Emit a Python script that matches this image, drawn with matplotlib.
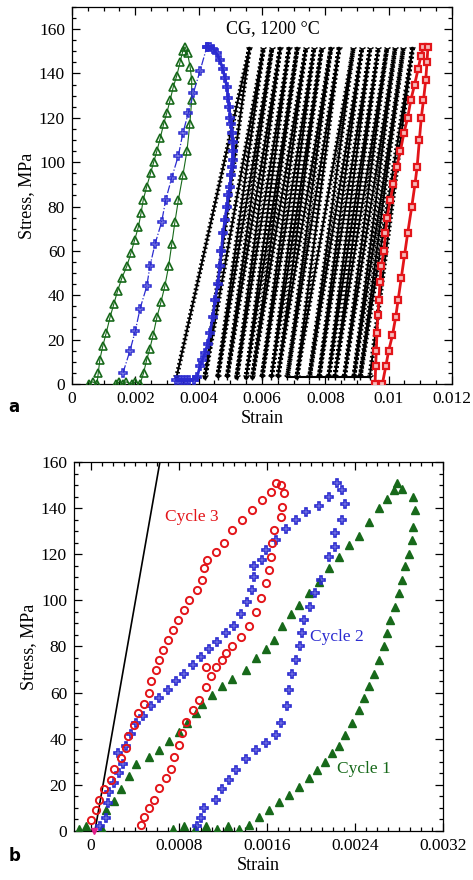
import matplotlib
matplotlib.use('Agg')
import matplotlib.pyplot as plt
from matplotlib.ticker import MultipleLocator, FixedLocator, FixedFormatter

plt.rcParams['font.family'] = ['Liberation Serif', 'DejaVu Serif']

# ---------------- Panel a data ----------------
green_a_strain = [0.00055, 0.00065, 0.00079, 0.00083, 0.00088, 0.00097, 0.00108, 0.0012, 0.00132, 0.00144,
                  0.00158, 0.00173, 0.00186, 0.00198, 0.0021, 0.00218, 0.00225, 0.00236, 0.00248, 0.00258,
                  0.00268, 0.00279, 0.00289, 0.00299, 0.0031, 0.0032, 0.00331, 0.00341, 0.0035, 0.00357,
                  0.00365, 0.00373, 0.00378, 0.00378, 0.00372, 0.00363, 0.0035, 0.00336, 0.00325, 0.00315,
                  0.00305, 0.00293, 0.00281, 0.00268, 0.00256, 0.00246, 0.00236, 0.00226, 0.00215,
                  0.0020, 0.0019, 0.0017, 0.0016, 0.0015, 0.0014]
green_a_stress = [0, 1, 0, 5, 11, 17, 23, 30, 36, 42,
                  48, 53, 59, 65, 71, 77, 83, 89, 95, 100,
                  105, 111, 117, 122, 128, 134, 139, 145, 150, 152,
                  149, 143, 137, 128, 117, 105, 94, 83, 73, 63,
                  53, 44, 37, 30, 22, 16, 11, 5, 0,
                  1, 0, 1, 0, 1, 0]

blue_load_strain = [0.00161, 0.00183, 0.0020, 0.00215, 0.00236, 0.00246, 0.00262, 0.00283, 0.00296, 0.00315,
                    0.00336, 0.0035, 0.00367, 0.00383, 0.00404, 0.00426]
blue_load_stress = [5, 15, 24, 34, 44, 53, 63, 73, 83, 93, 103, 113, 122, 131, 141, 152]
blue_unload_strain = [0.00426, 0.00436, 0.00446, 0.00457, 0.00467, 0.00476, 0.00483, 0.00489, 0.00493, 0.00497,
                      0.00499, 0.00503, 0.00505, 0.00508, 0.00509, 0.00507, 0.00505, 0.00502, 0.00499, 0.00494,
                      0.00489, 0.00483, 0.00477, 0.00472, 0.00467, 0.00460, 0.00452, 0.00444, 0.00436, 0.00428,
                      0.0042, 0.00412, 0.00404, 0.00395, 0.00385, 0.0037, 0.0036, 0.0035, 0.0034, 0.0033]
blue_unload_stress = [152, 152, 151, 149, 146, 142, 138, 134, 129, 125,
                      120, 117, 113, 109, 105, 101, 98, 94, 89, 85,
                      80, 74, 68, 60, 53, 45, 38, 30, 23, 18,
                      14, 11, 8, 3, 2, 2, 2, 2, 2, 2]

black_start_strain = 0.0033
black_peak_strain = [0.0056, 0.00604, 0.00631, 0.00657, 0.00685, 0.00711, 0.00738, 0.00764, 0.00788, 0.00817,
                     0.00843, 0.00888, 0.00915, 0.00941, 0.00967, 0.00994, 0.0102, 0.01046, 0.01075]
black_foot_strain = [0.0042, 0.0046, 0.0049, 0.0052, 0.0055, 0.0057, 0.0060, 0.0063, 0.0065, 0.0068,
                     0.0071, 0.0075, 0.0078, 0.0081, 0.0083, 0.0086, 0.0089, 0.0091, 0.0094]
black_peak_stress = 151
black_foot_stress = 3
black_base_strain = [0.0068, 0.0094]
black_base_stress = [3, 3]

red_a_strain = [0.00957, 0.00959, 0.00961, 0.00963, 0.00966, 0.00969, 0.00973, 0.00976, 0.00985, 0.0099,
                0.00995, 0.01005, 0.01015, 0.01026, 0.01037, 0.01048, 0.0106, 0.0107, 0.01082, 0.01093,
                0.01102, 0.0111,
                0.01124, 0.01121, 0.01117, 0.0111, 0.01103, 0.01097, 0.0109, 0.01083, 0.01073, 0.0106,
                0.0105, 0.0104, 0.0103, 0.01022, 0.01012, 0.0100, 0.00991, 0.0098]
red_a_stress = [0, 8, 15, 23, 31, 38, 46, 53, 60, 68,
                75, 83, 90, 98, 105, 113, 120, 128, 135, 142,
                148, 152,
                152, 145, 137, 128, 120, 110, 98, 90, 80, 68,
                58, 48, 38, 30, 22, 15, 8, 0]

# ---------------- Panel b data ----------------
elastic_strain = [0.00004, 0.00063]
elastic_stress = [0, 160]

c1_strain = [-0.0001, -0.00004, 0.0001, 0.000142, 0.000217, 0.000278, 0.000353, 0.000413, 0.000534, 0.000624,
             0.000715, 0.000805, 0.00088, 0.000956, 0.001016, 0.001107, 0.001197, 0.001288, 0.001409, 0.0015,
             0.00159, 0.001665, 0.00174, 0.001816, 0.001891, 0.001982, 0.002072, 0.002163, 0.002253, 0.002344,
             0.002434, 0.002525, 0.002615, 0.00269, 0.002751, 0.002781,
             0.002826, 0.002932, 0.002947, 0.002932, 0.002917, 0.002887, 0.002857, 0.002826, 0.002796, 0.002766,
             0.002721, 0.00269, 0.00266, 0.002615, 0.00257, 0.002525, 0.00248, 0.002434, 0.002374, 0.002314,
             0.002253, 0.002193, 0.002133, 0.002057, 0.001982, 0.001891, 0.001801, 0.00171, 0.00162, 0.00153,
             0.001439, 0.00135, 0.00125, 0.00115, 0.00105, 0.00095, 0.00085, 0.00075]
c1_stress = [1, 2, 1, 9, 13, 18, 24, 29, 32, 35,
             39, 43, 47, 51, 55, 59, 63, 66, 70, 75,
             79, 83, 89, 94, 98, 103, 108, 114, 119, 124,
             128, 134, 140, 144, 148, 151,
             148.5, 145, 139, 132, 126, 120, 115, 109, 103, 97,
             91.5, 86, 80, 74, 68, 63, 57.5, 52.5, 47, 41.5,
             37, 34, 30, 26.5, 23, 19, 15.6, 12.7, 9, 6,
             2.6, 1, 2, 1, 2, 1, 2, 1]

c2_strain = [0.00009, 0.000142, 0.000157, 0.000172, 0.000217, 0.000262, 0.000293, 0.000247, 0.000323, 0.000368,
             0.000413, 0.000473, 0.00055, 0.000624, 0.0007, 0.000776, 0.000851, 0.000926, 0.001001, 0.001077,
             0.001152, 0.001228, 0.001303, 0.001364, 0.001424, 0.001469, 0.001484, 0.001484, 0.00156, 0.00159,
             0.00168, 0.001771, 0.001862, 0.001952, 0.002072, 0.002163, 0.002238,
             0.002284, 0.002314, 0.002284, 0.002223, 0.002223, 0.002163, 0.002088, 0.002042, 0.001997, 0.001937,
             0.001921, 0.001906, 0.001862, 0.001831, 0.001801, 0.001786, 0.001726, 0.00168, 0.00159, 0.0015,
             0.001409, 0.001318, 0.001258, 0.001197, 0.001137, 0.001032, 0.001001, 0.00097]
c2_stress = [2, 5.6, 12, 17, 21, 25, 29, 34, 37, 42,
             47, 50, 54, 57.5, 61, 65, 68, 72, 75.6, 79,
             82, 86, 89, 94, 99.5, 104.5, 110, 115, 117.5, 122,
             126, 131, 135, 138.5, 141, 145, 150.7,
             148, 142, 135, 129, 123, 119, 109, 103, 97, 91.5,
             86, 80, 74, 68, 61, 54, 47, 41.6, 38, 35,
             31, 26.5, 22, 18, 13.4, 10, 5.6, 2]

c3_strain = [0.000006, 0.000052, 0.000081, 0.000127, 0.000187, 0.000217, 0.000278, 0.000323, 0.000338, 0.000398,
             0.000428, 0.000489, 0.000534, 0.00055, 0.000595, 0.000624, 0.000654, 0.0007, 0.000745, 0.00079,
             0.000851, 0.000896, 0.000971, 0.001016, 0.001032, 0.001062, 0.001137, 0.001213, 0.001288, 0.001378,
             0.001469, 0.00156, 0.001635, 0.00168,
             0.001726, 0.001756, 0.00174, 0.001726, 0.001665, 0.00165, 0.001635, 0.00162, 0.00159, 0.001545,
             0.0015, 0.001439, 0.001364, 0.001288, 0.001228, 0.001197, 0.00114, 0.00105, 0.001092, 0.001047,
             0.000986, 0.000926, 0.000866, 0.000835, 0.000805, 0.00076, 0.00073, 0.000685, 0.000624, 0.000579,
             0.000534, 0.000489, 0.000459]
c3_stress = [4.8, 9, 13.4, 18, 22, 27, 31.5, 36, 41, 46,
             51, 55, 60, 65, 70, 74, 78.5, 83, 87, 91.5,
             96, 100, 104.5, 109, 114, 117.5, 121, 125, 130.5, 135,
             139, 143.5, 147, 151,
             150, 146.4, 140.6, 136, 130.5, 124.7, 119, 113, 107.4, 101,
             95, 89, 84, 80, 77, 74, 71, 71, 67, 62.6,
             57, 52.5, 47.4, 42.4, 37.3, 32, 27, 23, 18.5, 13.4,
             10, 6, 2.6]

origin_strain = [0.00003]
origin_stress = [0]

a_xticks = [0, 0.002, 0.004, 0.006, 0.008, 0.010, 0.012]
a_xticklabels = ['0', '0.002', '0.004', '0.006', '0.008', '0.01', '0.012']
a_yticks = [0, 20, 40, 60, 80, 100, 120, 140, 160]
b_xticks = [0, 0.0008, 0.0016, 0.0024, 0.0032]
b_xticklabels = ['0', '0.0008', '0.0016', '0.0024', '0.0032']
b_yticks = [0, 20, 40, 60, 80, 100, 120, 140, 160]

GREEN = '#17691a'
BLUE = '#2b2bd0'
RED = '#e3151a'

fig = plt.figure(figsize=(4.73, 8.8), dpi=100)
axa = fig.add_axes([0.1522, 0.5636, 0.8034, 0.4286])
axb = fig.add_axes([0.1564, 0.0557, 0.7802, 0.4193])


def style(ax, xt, xtl, yt, xminor, yminor):
    ax.xaxis.set_major_locator(FixedLocator(xt))
    ax.xaxis.set_major_formatter(FixedFormatter(xtl))
    ax.yaxis.set_major_locator(FixedLocator(yt))
    ax.xaxis.set_minor_locator(MultipleLocator(xminor))
    ax.yaxis.set_minor_locator(MultipleLocator(yminor))
    ax.tick_params(which='both', direction='in', top=True, right=True, labelsize=12.5, width=0.9)
    ax.tick_params(which='major', length=6, pad=5)
    ax.tick_params(which='minor', length=3)
    for s in ax.spines.values():
        s.set_linewidth(0.9)
    ax.set_xlabel('Strain', fontsize=13, labelpad=2)
    ax.set_ylabel('Stress, MPa', fontsize=13, labelpad=3)


# ---- panel a ----
bx = [black_start_strain]
by = [black_foot_stress]
for p, f in zip(black_peak_strain, black_foot_strain):
    bx += [p, f]
    by += [black_peak_stress, black_foot_stress]
axa.plot(bx, by, color='black', lw=1.4, zorder=2)
axa.plot(bx, by, color='black', lw=3.4, ls=(0, (0.35, 0.55)), zorder=2)
axa.plot(bx, by, color='black', ls='none', marker='1', ms=5, zorder=2)
axa.plot(black_base_strain, black_base_stress, color='black', lw=1.5, zorder=2)

axa.plot(green_a_strain, green_a_stress, color=GREEN, lw=0.8, marker='^', ms=5.5,
         mfc='none', mec=GREEN, mew=1.2, zorder=3)
axa.plot(blue_load_strain, blue_load_stress, color=BLUE, lw=0.9, ls='-.', marker='P', ms=6,
         mfc='none', mec=BLUE, mew=1.1, zorder=3)
axa.plot(blue_unload_strain, blue_unload_stress, color=BLUE, lw=2.0, marker='P', ms=5.5,
         mfc='none', mec=BLUE, mew=1.2, zorder=3)
axa.plot(red_a_strain, red_a_stress, color=RED, lw=2.0, marker='s', ms=4.8,
         mfc='#f6b8b8', mec=RED, mew=1.6, zorder=4)

axa.set_xlim(0, 0.012)
axa.set_ylim(0, 170)
style(axa, a_xticks, a_xticklabels, a_yticks, 0.0005, 5)
axa.text(0.00635, 160, 'CG, 1200 °C', ha='center', va='center', fontsize=13)

# ---- panel b ----
axb.plot(elastic_strain, elastic_stress, color='black', lw=1.2, zorder=2)
axb.plot(c1_strain, c1_stress, ls='none', marker='^', ms=5.8, color=GREEN, zorder=3)
axb.plot(c2_strain, c2_stress, ls='none', marker='P', ms=6, mfc='none', mec=BLUE, mew=1.2, zorder=4)
axb.plot(c3_strain, c3_stress, ls='none', marker='o', ms=5.2, mfc='none', mec=RED, mew=1.4, zorder=5)
axb.plot(origin_strain, origin_stress, ls='none', marker='v', ms=4.5, color='#e0208a', zorder=6, clip_on=False)

axb.set_xlim(-0.00015, 0.0032)
axb.set_ylim(0, 160)
style(axb, b_xticks, b_xticklabels, b_yticks, 0.0001, 5)
axb.text(0.00092, 136, 'Cycle 3', color=RED, ha='center', va='center', fontsize=12.5)
axb.text(0.00224, 84, 'Cycle 2', color=BLUE, ha='center', va='center', fontsize=12.5)
axb.text(0.00248, 27, 'Cycle 1', color=GREEN, ha='center', va='center', fontsize=12.5)

fig.text(0.018, 0.538, 'a', fontsize=12, fontweight='bold', family='DejaVu Sans', va='center')
fig.text(0.018, 0.027, 'b', fontsize=12, fontweight='bold', family='DejaVu Sans', va='center')

fig.savefig('out.png', dpi=100)
